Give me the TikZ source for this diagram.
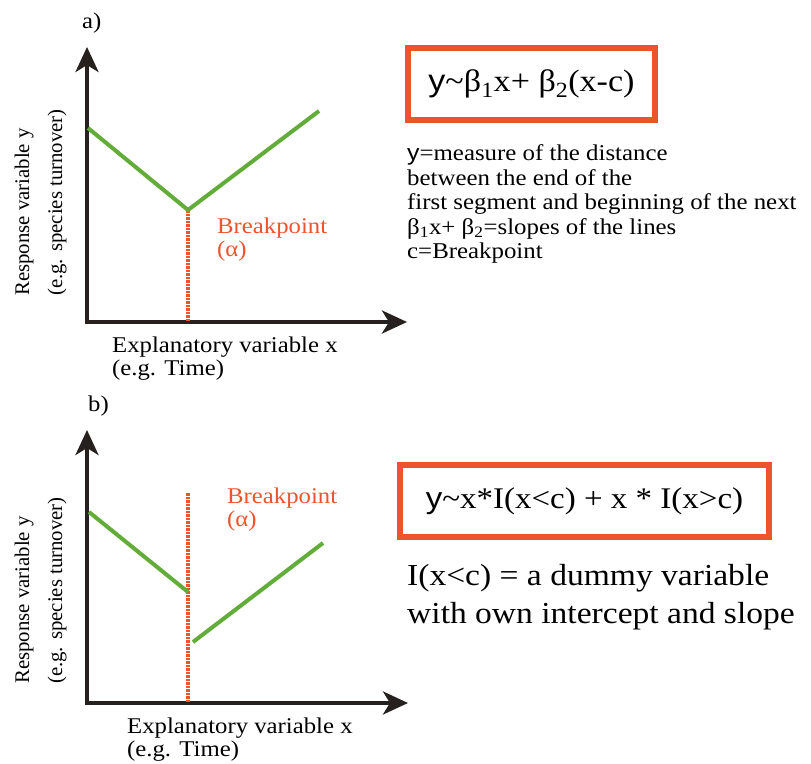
\documentclass[tikz,border=0pt]{standalone}
\usepackage{fontspec}
\setmainfont{Liberation Serif}[FakeStretch=1.1]
\newfontfamily\ysans{Liberation Sans}[FakeStretch=1.1]
\newfontfamily\upright{Liberation Serif}
\usepackage{xcolor}
\usetikzlibrary{arrows.meta,positioning}

\definecolor{brkred}{RGB}{236,84,46}
\definecolor{fitgreen}{RGB}{98,172,58}
\definecolor{axisdark}{RGB}{38,32,30}
\newcommand{\pxfont}[2]{\fontsize{#1}{#2}\selectfont}

\begin{document}
\begin{tikzpicture}[x=1pt,y=-1pt,every node/.style={inner sep=0pt},
  axes/.style={line width=4pt,draw=axisdark,{Stealth[length=25pt,width=23pt,inset=7pt]}-{Stealth[length=25pt,width=23pt,inset=7pt]}},
  fitline/.style={line width=4pt,draw=fitgreen},
  brkline/.style={line width=3.5pt,draw=brkred,dash pattern=on 2.5pt off 1pt},
  eqbox/.style={draw=brkred,line width=6pt},
  brktext/.style={anchor=base west,text=brkred,font=\pxfont{22.5}{23}},
  axlabel/.style={anchor=base west,font=\pxfont{22.5}{23}},
  ylabel/.style={anchor=base west,rotate=90,font=\upright\pxfont{20.8}{21}}]
  \useasboundingbox (0,0) rectangle (811,763);

  % a) one continuous break
  \coordinate (oA) at (87,322);
  \coordinate (ytipA) at (87,47);
  \coordinate (xtipA) at (407,322);
  \draw[axes] (ytipA) -- (oA) -- (xtipA);
  \coordinate (sA) at (88,128);
  \coordinate (vA) at (188,210);
  \coordinate (eA) at (319,111);
  \coordinate (footA) at (188,322);
  \draw[brkline] (vA) -- (footA);
  \draw[fitline] (sA) -- (vA) -- (eA);
  \node[axlabel] (tagA) at (82,28) {a)};
  \node[brktext] (brkA) at (217,233) {Breakpoint};
  \node[brktext] (alphaA) at ([yshift=-23pt]brkA.base west) {(α)};
  \node[axlabel] (xlabA) at (112,352) {Explanatory variable x};
  \node[axlabel] (xnoteA) at ([yshift=-23pt]xlabA.base west) {(e.g. Time)};
  \node[ylabel] (ylabA) at (29,296) {Response variable y};
  \node[ylabel] (ynoteA) at (62,296) {(e.g. species turnover)};

  \node[eqbox,minimum width=247pt,minimum height=72pt,font=\pxfont{31}{31}] (eqA) at (531.5,84)
    {{\ysans y}\textasciitilde β\textsubscript{1}x+ β\textsubscript{2}(x-c)};
  \node[anchor=north west,align=left,font=\pxfont{22.6}{24.5}] (descA) at (407,144.5)
    {{\ysans y}=measure of the distance\\
     between the end of the\\
     first segment and beginning of the next\\
     β\textsubscript{1}x+ β\textsubscript{2}=slopes of the lines\\
     c=Breakpoint};

  % b) break with a jump
  \coordinate (oB) at (87,703);
  \coordinate (ytipB) at (87,430);
  \coordinate (xtipB) at (408,703);
  \draw[axes] (ytipB) -- (oB) -- (xtipB);
  \coordinate (topB) at (188,493);
  \coordinate (footB) at (188,703);
  \draw[brkline] (topB) -- (footB);
  \coordinate (sB) at (89,512);
  \coordinate (vB) at (188,592);
  \coordinate (jB) at (193,642);
  \coordinate (eB) at (323,543);
  \draw[fitline] (sB) -- (vB);
  \draw[fitline] (jB) -- (eB);
  \node[axlabel] (tagB) at (88,411) {b)};
  \node[brktext] (brkB) at (227,503) {Breakpoint};
  \node[brktext] (alphaB) at ([yshift=-23pt]brkB.base west) {(α)};
  \node[axlabel] (xlabB) at (127,733) {Explanatory variable x};
  \node[axlabel] (xnoteB) at ([yshift=-23pt]xlabB.base west) {(e.g. Time)};
  \node[ylabel] (ylabB) at (29,684) {Response variable y};
  \node[ylabel] (ynoteB) at (62,684) {(e.g. species turnover)};

  \node[eqbox,minimum width=369pt,minimum height=72pt,font=\pxfont{30}{30}] (eqB) at (584.5,501)
    {{\ysans y}\textasciitilde x*I(x<c) + x * I(x>c)};
  \node[anchor=base west,font=\pxfont{30.5}{38}] (dumB) at (407,585) {I(x<c) = a dummy variable};
  \node[anchor=base west,font=\pxfont{30.5}{38}] (slopeB) at ([yshift=-38pt]dumB.base west) {with own intercept and slope};
\end{tikzpicture}
\end{document}
